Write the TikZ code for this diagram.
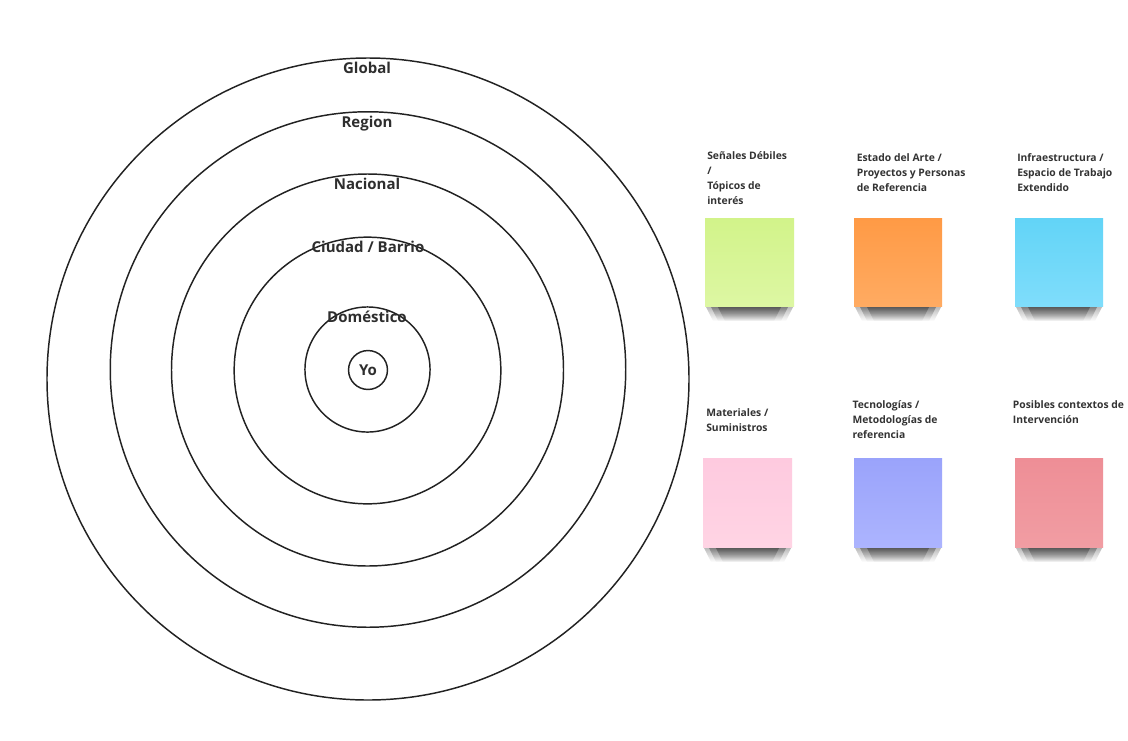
\documentclass[tikz,border=0pt]{standalone}
\usepackage{fontspec}
\setmainfont{Open Sans}
\usetikzlibrary{fadings}
\definecolor{ringc}{HTML}{222222}
\definecolor{lbl}{HTML}{2E2E2E}
\definecolor{txt}{HTML}{333333}
\definecolor{gA}{HTML}{D2F38A}\definecolor{gB}{HTML}{DDF7A3}
\definecolor{oA}{HTML}{FF9A45}\definecolor{oB}{HTML}{FFAB62}
\definecolor{bA}{HTML}{62D4F7}\definecolor{bB}{HTML}{7FDDFB}
\definecolor{pA}{HTML}{FECADF}\definecolor{pB}{HTML}{FFD4E4}
\definecolor{vA}{HTML}{9AA3FB}\definecolor{vB}{HTML}{ACB4FE}
\definecolor{rA}{HTML}{EE8E96}\definecolor{rB}{HTML}{F19DA3}
\tikzfading[name=shv, top color=transparent!0, bottom color=transparent!100]
\newcommand{\stickynote}[7]{%
  \foreach \ins/\op in {0/0.3,5/0.35,12/0.35}{%
    \fill[black, fill opacity=\op, path fading=shv]
      (#2+\ins,#5-1) -- (#4-\ins,#5-1) -- (#4-\ins-8,#5+15) -- (#2+\ins+8,#5+15) -- cycle;
  }
  \shade[top color=#6, bottom color=#7] (#2,#3) rectangle (#4,#5);
  \coordinate (#1) at ({(#2+#4)/2},{(#3+#5)/2});
}
\newcommand{\lns}[1]{\vtop{\baselineskip=11.25pt\lineskiplimit=-20pt #1}}
\begin{document}
\begin{tikzpicture}[x=0.75pt,y=-0.75pt,
  ring/.style={draw=ringc, line width=1.1pt},
  lvl/.style={font=\bfseries\fontsize{11.25}{13}\selectfont, text=lbl, inner sep=0pt, anchor=base},
  notetxt/.style={font=\bfseries\fontsize{7.75}{11.25}\selectfont, text=txt, inner sep=0pt, anchor=base west},
]
\useasboundingbox[fill=white] (0,0) rectangle (1128,740);

% rings
\draw[ring] (368,379) circle[radius=240.75pt];
\draw[ring] (368,369.5) circle[radius=193.3pt];
\draw[ring] (367.5,370) circle[radius=147pt];
\draw[ring] (367.5,370.5) circle[radius=100pt];
\draw[ring] (367.5,369.5) circle[radius=46.9pt];
\draw[ring] (368,370) circle[radius=14.6pt];

% ring labels
\node[lvl] (global) at (367,73) {Global};
\node[lvl] (region) at (367,127.7) {Region};
\node[lvl] (nacional) at (367,189.3) {Nacional};
\node[lvl] (ciudad) at (368,252.7) {Ciudad / Barrio};
\node[lvl] (domestico) at (367,322.7) {Doméstico};
\node[lvl] (yo) at (368,375) {Yo};

% sticky notes
\stickynote{s1}{705}{218}{794}{306}{gA}{gB}
\stickynote{s2}{854}{218}{942}{306}{oA}{oB}
\stickynote{s3}{1015}{218}{1103}{306}{bA}{bB}
\stickynote{s4}{703}{458}{792}{547}{pA}{pB}
\stickynote{s5}{854}{458}{942}{547}{vA}{vB}
\stickynote{s6}{1015}{458}{1103}{547}{rA}{rB}

% note titles
\node[notetxt] (t1) at (707,159) {\lns{\hbox{Señales Débiles}\hbox{/}\hbox{Tópicos de}\hbox{interés}}};
\node[notetxt] (t2) at (856.5,161) {\lns{\hbox{Estado del Arte /}\hbox{Proyectos y Personas}\hbox{de Referencia}}};
\node[notetxt] (t3) at (1017,161) {\lns{\hbox{Infraestructura /}\hbox{Espacio de Trabajo}\hbox{Extendido}}};
\node[notetxt] (t4) at (706,416.3) {\lns{\hbox{Materiales /}\hbox{Suministros}}};
\node[notetxt] (t5) at (852.3,408) {\lns{\hbox{Tecnologías /}\hbox{Metodologías de}\hbox{referencia}}};
\node[notetxt] (t6) at (1012.7,408) {\lns{\hbox{Posibles contextos de}\hbox{Intervención}}};
\end{tikzpicture}
\end{document}
